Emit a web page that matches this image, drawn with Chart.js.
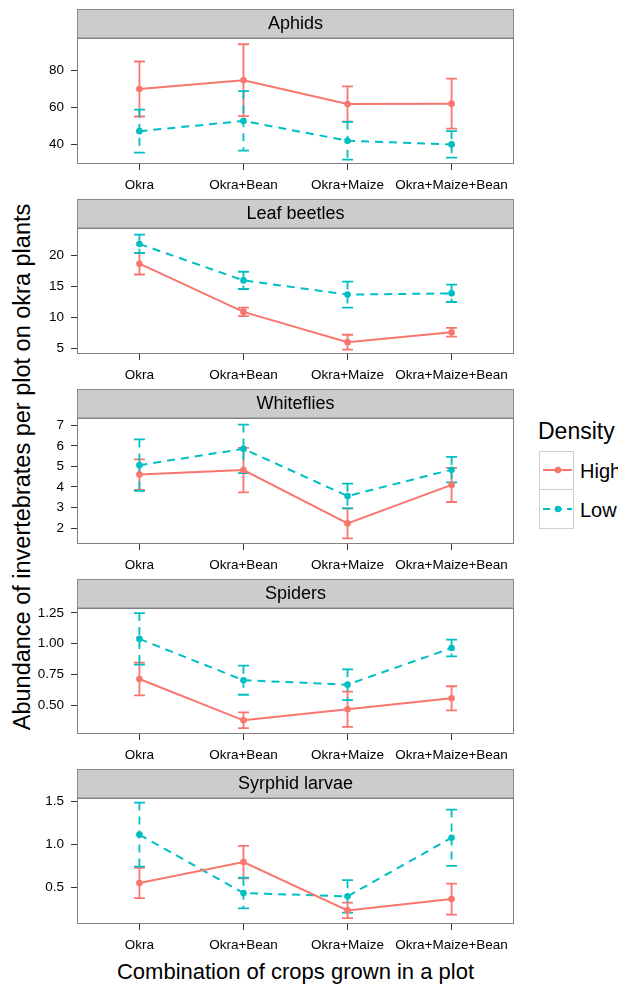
<!DOCTYPE html>
<html>
<head>
<meta charset="utf-8">
<script src="https://cdn.jsdelivr.net/npm/chart.js@4.4.1/dist/chart.umd.min.js"></script>
<style>
  body { margin: 0; width: 618px; height: 985px; overflow: hidden; background: #fff; position: relative;
         font-family: "Liberation Sans", Arial, Helvetica, sans-serif; color: #000; }
  canvas.panel { position: absolute; left: 0; }
  #ytitle { position: absolute; left: 22px; top: 467px; transform: translate(-50%, -50%) rotate(-90deg);
            font-size: 23.5px; white-space: nowrap; }
  #xtitle { position: absolute; left: 295.5px; top: 972px; transform: translate(-50%, -50%);
            font-size: 22px; white-space: nowrap; }
  #legend { position: absolute; left: 537px; top: 418px; width: 120px; }
  #legend .ltitle { font-size: 23px; line-height: 27px; margin-left: 1px; white-space: nowrap; }
  #legend .row { position: relative; height: 39px; }
  #legend .key { position: absolute; left: 2px; top: 0; width: 35px; height: 39px; box-sizing: border-box;
                 border: 1px solid #cfcfcf; background: #fff; }
  #legend .row + .row .key { border-top: none; }
  #legend .lab { position: absolute; left: 43px; top: 1px; line-height: 39px; font-size: 20px; white-space: nowrap; }
</style>
</head>
<body>
<div id="ytitle">Abundance of invertebrates per plot on okra plants</div>
<div id="xtitle">Combination of crops grown in a plot</div>
<div id="legend">
  <div class="ltitle">Density</div>
  <div style="height:6px"></div>
  <div class="row">
    <div class="key"><svg width="33" height="37"><line x1="3" y1="18" x2="32" y2="18" stroke="#F8766D" stroke-width="2"/><circle cx="18" cy="18" r="3.3" fill="#F8766D"/></svg></div>
    <div class="lab">High</div>
  </div>
  <div class="row">
    <div class="key"><svg width="33" height="37"><line x1="3" y1="19" x2="32" y2="19" stroke="#00BFC4" stroke-width="2" stroke-dasharray="7,5"/><circle cx="18" cy="19" r="3.3" fill="#00BFC4"/></svg></div>
    <div class="lab">Low</div>
  </div>
</div>

<script>
// crop combinations on the x axis
const categories = ['Okra', 'Okra+Bean', 'Okra+Maize', 'Okra+Maize+Bean'];

// mean abundance and error (+/-) per density
const aphidsHigh   = [70, 74.8, 61.8, 62];
const aphidsHighSE = [15, 19.6, 9.6, 13.6];
const aphidsLow    = [47, 52.6, 41.8, 39.8];
const aphidsLowSE  = [11.7, 16.2, 10.3, 7.2];
const aphidsTicks  = [40, 60, 80];
const aphidsLabels = ['40', '60', '80'];

const beetlesHigh   = [18.7, 10.9, 6.0, 7.6];
const beetlesHighSE = [1.75, 0.7, 1.2, 0.7];
const beetlesLow    = [21.9, 16.0, 13.7, 13.9];
const beetlesLowSE  = [1.5, 1.4, 2.1, 1.4];
const beetlesTicks  = [5, 10, 15, 20];
const beetlesLabels = ['5', '10', '15', '20'];

const whitefliesHigh   = [4.6, 4.82, 2.23, 4.1];
const whitefliesHighSE = [0.74, 1.08, 0.73, 0.83];
const whitefliesLow    = [5.06, 5.85, 3.56, 4.84];
const whitefliesLowSE  = [1.25, 1.18, 0.6, 0.62];
const whitefliesTicks  = [2, 3, 4, 5, 6, 7];
const whitefliesLabels = ['2', '3', '4', '5', '6', '7'];

const spidersHigh   = [0.713, 0.377, 0.467, 0.556];
const spidersHighSE = [0.133, 0.064, 0.143, 0.098];
const spidersLow    = [1.039, 0.703, 0.667, 0.965];
const spidersLowSE  = [0.21, 0.118, 0.125, 0.068];
const spidersTicks  = [0.5, 0.75, 1.0, 1.25];
const spidersLabels = ['0.50', '0.75', '1.00', '1.25'];

const syrphidHigh   = [0.554, 0.796, 0.238, 0.369];
const syrphidHighSE = [0.175, 0.187, 0.09, 0.179];
const syrphidLow    = [1.112, 0.438, 0.4, 1.077];
const syrphidLowSE  = [0.37, 0.177, 0.187, 0.325];
const syrphidTicks  = [0.5, 1.0, 1.5];
const syrphidLabels = ['0.5', '1.0', '1.5'];

const HIGH_COLOR = '#F8766D';
const LOW_COLOR = '#00BFC4';
const FONT = '"Liberation Sans", Arial, Helvetica, sans-serif';

const panels = [
    { title: 'Aphids', high: aphidsHigh, highSE: aphidsHighSE, low: aphidsLow, lowSE: aphidsLowSE,
      ticks: aphidsTicks, labels: aphidsLabels, min: 29.1, max: 97.8 },
    { title: 'Leaf beetles', high: beetlesHigh, highSE: beetlesHighSE, low: beetlesLow, lowSE: beetlesLowSE,
      ticks: beetlesTicks, labels: beetlesLabels, min: 4.08, max: 24.48 },
    { title: 'Whiteflies', high: whitefliesHigh, highSE: whitefliesHighSE, low: whitefliesLow, lowSE: whitefliesLowSE,
      ticks: whitefliesTicks, labels: whitefliesLabels, min: 1.23, max: 7.35 },
    { title: 'Spiders', high: spidersHigh, highSE: spidersHighSE, low: spidersLow, lowSE: spidersLowSE,
      ticks: spidersTicks, labels: spidersLabels, min: 0.266, max: 1.29 },
    { title: 'Syrphid larvae', high: syrphidHigh, highSE: syrphidHighSE, low: syrphidLow, lowSE: syrphidLowSE,
      ticks: syrphidTicks, labels: syrphidLabels, min: 0.081, max: 1.535 }
];

// grey strip with the facet title, and the panel border
const facetFrame = {
    id: 'facetFrame',
    beforeDraw(chart, args, opts) {
        const { ctx, chartArea: a } = chart;
        ctx.save();
        ctx.fillStyle = '#cccccc';
        ctx.fillRect(a.left, 0, a.right - a.left, 29);
        ctx.strokeStyle = '#8a8a8a';
        ctx.lineWidth = 1;
        ctx.strokeRect(a.left + 0.5, 0.5, a.right - a.left - 1, 28.5);
        ctx.fillStyle = '#000';
        ctx.font = '18px ' + FONT;
        ctx.textAlign = 'center';
        ctx.textBaseline = 'middle';
        ctx.fillText(opts.title, (a.left + a.right) / 2, 15);
        ctx.restore();
    },
    afterDraw(chart) {
        const { ctx, chartArea: a } = chart;
        ctx.save();
        ctx.strokeStyle = '#7f7f7f';
        ctx.lineWidth = 1;
        ctx.strokeRect(a.left + 0.5, a.top + 0.5, a.right - a.left - 1, a.bottom - a.top - 1);
        ctx.restore();
    }
};

// vertical error bars with caps, drawn under the lines and points
const errorBars = {
    id: 'errorBars',
    beforeDatasetsDraw(chart) {
        const { ctx, scales: { x, y } } = chart;
        chart.data.datasets.forEach(ds => {
            ctx.save();
            ctx.strokeStyle = ds.borderColor;
            ctx.lineWidth = 1.8;
            ds.data.forEach((pt, i) => {
                const px = x.getPixelForValue(pt.x);
                const top = y.getPixelForValue(pt.y + ds.se[i]);
                const bot = y.getPixelForValue(pt.y - ds.se[i]);
                ctx.setLineDash(ds.borderDash || []);
                ctx.beginPath();
                ctx.moveTo(px, top);
                ctx.lineTo(px, bot);
                ctx.stroke();
                ctx.setLineDash([]);
                ctx.beginPath();
                ctx.moveTo(px - 5.5, top); ctx.lineTo(px + 5.5, top);
                ctx.moveTo(px - 5.5, bot); ctx.lineTo(px + 5.5, bot);
                ctx.stroke();
            });
            ctx.restore();
        });
    }
};

function series(label, values, se, color, dash) {
    return {
        label: label,
        data: values.map((v, i) => ({ x: i, y: v })),
        se: se,
        borderColor: color,
        backgroundColor: color,
        borderWidth: 2,
        borderDash: dash,
        pointRadius: 3.3,
        pointBorderWidth: 0,
        pointBackgroundColor: color,
        tension: 0,
        fill: false
    };
}

panels.forEach((p, idx) => {
    const canvas = document.createElement('canvas');
    canvas.className = 'panel';
    canvas.width = 520;
    canvas.height = 190;
    canvas.style.top = (9 + idx * 190) + 'px';
    document.body.appendChild(canvas);

    new Chart(canvas.getContext('2d'), {
        type: 'line',
        data: {
            datasets: [
                series('High', p.high, p.highSE, HIGH_COLOR, []),
                series('Low', p.low, p.lowSE, LOW_COLOR, [8, 6])
            ]
        },
        plugins: [facetFrame, errorBars],
        options: {
            responsive: false,
            animation: false,
            devicePixelRatio: 1,
            layout: { padding: { top: 29, right: 6, left: 0, bottom: 0 } },
            plugins: {
                legend: { display: false },
                tooltip: { enabled: false },
                facetFrame: { title: p.title }
            },
            scales: {
                x: {
                    type: 'linear',
                    min: -0.6,
                    max: 3.6,
                    afterBuildTicks: s => { s.ticks = categories.map((c, i) => ({ value: i })); },
                    afterFit: s => { s.height = 35; },
                    ticks: {
                        callback: v => categories[Math.round(v)],
                        font: { size: 13.5, family: FONT },
                        color: '#000',
                        padding: 7,
                        maxRotation: 0,
                        autoSkip: false
                    },
                    grid: { drawOnChartArea: false, tickLength: 6, color: '#333', lineWidth: 1 },
                    border: { display: false }
                },
                y: {
                    type: 'linear',
                    min: p.min,
                    max: p.max,
                    afterBuildTicks: s => { s.ticks = p.ticks.map(v => ({ value: v })); },
                    afterFit: s => { s.width = 77; },
                    ticks: {
                        callback: (v, i) => p.labels[i],
                        font: { size: 13.5, family: FONT },
                        color: '#000',
                        padding: 7
                    },
                    grid: { drawOnChartArea: false, tickLength: 6, color: '#333', lineWidth: 1 },
                    border: { display: false }
                }
            }
        }
    });
});
</script>
</body>
</html>
